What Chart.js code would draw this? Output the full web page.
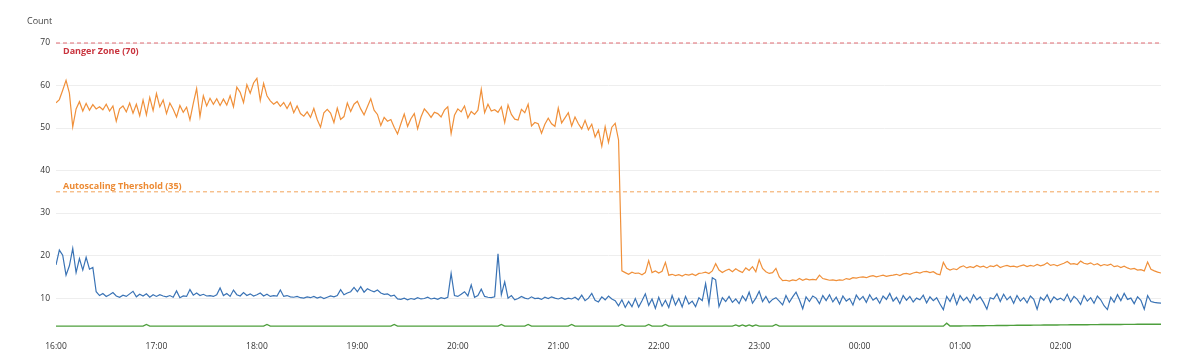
<!DOCTYPE html>
<html>
<head>
<meta charset="utf-8">
<script src="https://cdn.jsdelivr.net/npm/chart.js@4.4.1/dist/chart.umd.min.js"></script>
<style>
  html, body { margin: 0; padding: 0; background: #fff; }
  #wrap { position: relative; width: 1200px; height: 362px; }
</style>
</head>
<body>
<div id="wrap"><canvas id="countChart"></canvas></div>
<script>
// one sample every 2 minutes, starting at 16:00
const stepMinutes = 2;
const hourLabels = ['16:00', '17:00', '18:00', '19:00', '20:00', '21:00', '22:00', '23:00', '00:00', '01:00', '02:00'];
const yTickValues = [10, 20, 30, 40, 50, 60, 70];
const dangerLevel = 70;
const autoscaleLevel = 35;

const orangeCounts = [
  55.9, 56.7, 58.9, 61.2, 58.2, 50.3, 54.5, 56.2, 54.0, 55.8, 54.2, 55.5, 54.5, 55.0, 54.3, 55.6, 54.0, 55.2, 51.6, 54.5, 55.2, 53.8, 55.9, 53.5, 55.6, 52.9, 56.6, 53.1, 57.2, 54.1,
  58.1, 55.0, 56.6, 53.4, 55.9, 54.4, 52.6, 55.3, 53.7, 54.9, 51.9, 55.8, 59.3, 52.7, 57.6, 55.2, 57.0, 55.6, 56.9, 55.3, 56.8, 55.4, 57.6, 55.0, 59.6, 58.4, 56.0, 60.2, 58.2, 60.6,
  61.7, 56.5, 60.5, 57.6, 56.4, 55.6, 56.2, 55.1, 56.0, 54.6, 56.0, 53.6, 55.2, 53.4, 52.8, 53.8, 52.5, 54.6, 52.0, 50.2, 53.6, 54.4, 53.5, 51.3, 54.7, 52.0, 52.7, 55.9, 53.9, 55.6,
  56.3, 54.5, 53.1, 55.0, 56.9, 54.2, 53.2, 50.6, 52.5, 51.6, 52.0, 50.2, 48.6, 51.0, 53.3, 50.4, 52.2, 53.4, 49.8, 52.6, 54.5, 53.6, 52.5, 53.7, 53.4, 52.6, 54.2, 55.0, 48.7, 53.0,
  54.5, 53.8, 55.2, 52.4, 53.9, 53.2, 54.2, 59.1, 53.6, 55.6, 54.0, 54.3, 53.7, 55.0, 51.3, 55.4, 53.2, 52.1, 51.9, 54.4, 53.6, 55.6, 50.5, 51.3, 51.0, 48.8, 50.9, 52.3, 51.0, 50.4,
  54.7, 51.2, 52.4, 53.6, 50.5, 52.6, 51.0, 49.8, 51.8, 49.6, 50.9, 47.9, 49.5, 45.7, 50.3, 46.6, 50.2, 51.1, 47.2, 16.4, 16.0, 15.6, 16.1, 15.8, 15.9, 15.5, 16.0, 18.8, 16.0, 16.4,
  15.9, 16.3, 18.4, 15.4, 15.6, 15.3, 15.5, 15.2, 15.6, 15.4, 15.7, 15.3, 15.8, 15.9, 16.1, 15.8, 16.4, 18.1, 16.6, 16.0, 16.5, 16.8, 16.2, 16.9, 16.4, 16.0, 17.1, 16.5, 17.4, 16.2,
  19.0, 17.0, 16.2, 15.8, 16.0, 17.0, 15.0, 14.1, 14.2, 14.0, 14.3, 14.1, 14.6, 14.2, 14.5, 14.3, 14.4, 14.3, 15.4, 14.6, 14.4, 14.2, 14.3, 14.1, 14.3, 14.2, 14.6, 14.4, 14.8, 14.7,
  14.9, 15.0, 14.8, 15.1, 15.3, 15.0, 15.2, 15.4, 15.1, 15.3, 15.4, 15.6, 15.3, 15.7, 15.8, 15.6, 15.9, 16.1, 15.9, 16.2, 16.3, 16.0, 16.2, 15.7, 15.5, 18.4, 17.0, 16.6, 16.9, 16.7,
  17.3, 17.6, 17.1, 17.4, 17.2, 17.7, 17.3, 17.5, 17.1, 17.6, 17.4, 17.8, 17.2, 17.5, 17.7, 17.4, 17.5, 17.3, 17.6, 17.8, 17.4, 17.7, 17.5, 17.9, 17.6, 17.8, 18.3, 17.7, 17.9, 17.6,
  17.9, 18.2, 18.6, 18.0, 18.1, 17.9, 18.7, 18.2, 18.0, 18.3, 17.8, 18.1, 17.6, 17.9, 17.7, 18.0, 17.4, 17.6, 17.2, 17.5, 17.1, 16.8, 17.0, 16.6, 16.7, 16.4, 18.5, 16.8, 16.4, 16.1, 15.9
];

const blueCounts = [
  17.8, 21.3, 20.1, 15.4, 17.6, 21.7, 16.0, 19.3, 16.6, 19.6, 16.8, 17.2, 11.5, 10.6, 11.1, 10.4, 10.8, 11.3, 10.5, 10.2, 10.7, 10.4, 11.0, 11.6, 10.3, 10.9, 10.5, 11.0, 10.2, 10.8,
  10.4, 10.8, 10.5, 10.3, 10.6, 10.2, 11.7, 10.1, 10.5, 10.4, 12.0, 10.7, 11.2, 10.6, 10.9, 10.5, 10.6, 10.4, 10.8, 12.4, 10.6, 11.1, 10.4, 11.9, 10.8, 10.5, 11.3, 10.6, 11.0, 10.5,
  10.8, 11.2, 10.5, 10.9, 10.4, 10.6, 10.5, 11.9, 10.4, 10.6, 10.3, 10.2, 10.4, 10.1, 10.0, 10.3, 10.1, 10.4, 10.0, 10.3, 9.9, 10.2, 10.5, 10.3, 10.6, 12.0, 10.8, 11.2, 11.5, 12.5,
  11.5, 12.7, 11.4, 12.2, 11.8, 11.5, 11.9, 11.2, 10.9, 11.0, 10.5, 10.7, 9.8, 9.7, 10.0, 9.6, 9.9, 9.7, 10.1, 9.8, 9.9, 10.2, 9.8, 10.0, 9.7, 10.1, 9.9, 10.2, 15.8, 10.6,
  10.4, 10.9, 11.5, 10.5, 13.1, 10.2, 10.6, 12.1, 10.4, 10.2, 10.1, 10.3, 20.4, 10.8, 13.8, 10.0, 10.6, 9.6, 9.9, 10.4, 10.0, 9.8, 10.3, 9.9, 10.0, 9.7, 10.2, 9.9, 10.3, 10.0,
  9.8, 10.1, 9.7, 10.0, 9.8, 10.2, 9.6, 10.7, 9.4, 10.0, 11.1, 9.5, 9.1, 10.3, 9.6, 10.5, 9.8, 9.4, 8.2, 9.6, 7.8, 9.2, 8.0, 9.9, 7.9, 9.4, 11.0, 8.3, 9.8, 7.6,
  10.2, 8.1, 9.5, 7.8, 10.6, 8.4, 9.9, 7.9, 10.4, 8.6, 9.3, 8.0, 10.1, 9.4, 13.4, 8.6, 14.8, 14.3, 8.0, 10.1, 9.2, 10.4, 9.0, 9.8, 8.7, 10.5, 9.4, 11.4, 8.8, 10.0,
  11.6, 9.2, 10.4, 8.9, 9.7, 10.1, 9.3, 8.4, 10.6, 9.0, 10.3, 11.4, 9.6, 7.5, 10.3, 9.2, 10.5, 10.0, 8.7, 10.6, 9.4, 10.8, 9.1, 10.2, 8.6, 10.5, 9.3, 9.9, 8.4, 10.7,
  9.6, 10.4, 9.0, 10.8, 9.5, 10.1, 8.8, 10.5, 9.7, 11.1, 9.3, 10.2, 8.7, 10.6, 9.5, 10.4, 9.1, 10.0, 9.6, 10.7, 8.9, 10.3, 9.4, 10.1, 8.6, 7.3, 10.4, 9.2, 11.0, 8.5,
  10.6, 9.4, 10.2, 8.9, 10.8, 9.6, 10.3, 9.0, 7.4, 10.1, 9.8, 11.0, 9.2, 10.9, 9.6, 10.4, 8.8, 10.6, 9.3, 10.1, 8.9, 10.5, 9.7, 7.4, 10.2, 9.5, 10.8, 9.0, 10.3, 9.6,
  10.0, 9.4, 10.9, 9.1, 10.4, 9.7, 8.5, 10.6, 9.3, 10.1, 8.8, 10.5, 9.6, 8.2, 7.3, 10.2, 9.0, 10.8, 9.4, 11.1, 9.7, 10.0, 8.7, 10.3, 9.5, 7.4, 10.6, 9.2, 9.0, 8.9, 8.8
];

const greenCounts = [
  3.4, 3.4, 3.4, 3.4, 3.4, 3.4, 3.4, 3.4, 3.4, 3.4, 3.4, 3.4, 3.4, 3.4, 3.4, 3.4, 3.4, 3.4, 3.4, 3.4, 3.4, 3.4, 3.4, 3.4, 3.4, 3.4, 3.4, 3.8, 3.4, 3.4,
  3.4, 3.4, 3.4, 3.4, 3.4, 3.4, 3.4, 3.4, 3.4, 3.4, 3.4, 3.4, 3.4, 3.4, 3.4, 3.4, 3.4, 3.4, 3.4, 3.4, 3.4, 3.4, 3.4, 3.4, 3.4, 3.4, 3.4, 3.4, 3.4, 3.4,
  3.4, 3.4, 3.4, 3.8, 3.4, 3.4, 3.4, 3.4, 3.4, 3.4, 3.4, 3.4, 3.4, 3.4, 3.4, 3.4, 3.4, 3.4, 3.4, 3.4, 3.4, 3.4, 3.4, 3.4, 3.4, 3.4, 3.4, 3.4, 3.4, 3.4,
  3.4, 3.4, 3.4, 3.4, 3.4, 3.4, 3.4, 3.4, 3.4, 3.4, 3.4, 3.8, 3.4, 3.4, 3.4, 3.4, 3.4, 3.4, 3.4, 3.4, 3.4, 3.4, 3.4, 3.4, 3.4, 3.4, 3.4, 3.4, 3.4, 3.4,
  3.4, 3.4, 3.4, 3.4, 3.4, 3.4, 3.4, 3.4, 3.4, 3.4, 3.4, 3.4, 3.4, 3.8, 3.4, 3.4, 3.4, 3.4, 3.4, 3.4, 3.4, 3.8, 3.4, 3.4, 3.4, 3.4, 3.4, 3.4, 3.4, 3.4,
  3.4, 3.4, 3.4, 3.4, 3.8, 3.4, 3.4, 3.4, 3.4, 3.4, 3.4, 3.4, 3.4, 3.4, 3.4, 3.4, 3.4, 3.4, 3.4, 3.8, 3.4, 3.4, 3.4, 3.4, 3.4, 3.4, 3.4, 3.8, 3.4, 3.4,
  3.4, 3.4, 3.8, 3.4, 3.4, 3.4, 3.4, 3.4, 3.4, 3.4, 3.4, 3.4, 3.4, 3.4, 3.4, 3.4, 3.4, 3.4, 3.4, 3.4, 3.4, 3.4, 3.4, 3.7, 3.4, 3.7, 3.4, 3.7, 3.4, 3.7,
  3.4, 3.4, 3.4, 3.4, 3.4, 3.8, 3.4, 3.4, 3.4, 3.4, 3.4, 3.4, 3.4, 3.4, 3.4, 3.4, 3.4, 3.4, 3.4, 3.4, 3.4, 3.4, 3.4, 3.4, 3.4, 3.4, 3.4, 3.4, 3.4, 3.4,
  3.4, 3.4, 3.4, 3.4, 3.4, 3.4, 3.4, 3.4, 3.4, 3.4, 3.4, 3.4, 3.4, 3.4, 3.4, 3.4, 3.4, 3.4, 3.4, 3.4, 3.4, 3.4, 3.4, 3.4, 3.4, 3.4, 4.1, 3.45, 3.45, 3.45,
  3.45, 3.46, 3.47, 3.48, 3.49, 3.5, 3.5, 3.51, 3.52, 3.53, 3.54, 3.55, 3.55, 3.56, 3.57, 3.58, 3.59, 3.6, 3.6, 3.61, 3.62, 3.63, 3.64, 3.65, 3.65, 3.66, 3.67, 3.68, 3.68, 3.69,
  3.7, 3.7, 3.71, 3.72, 3.72, 3.73, 3.74, 3.74, 3.75, 3.76, 3.76, 3.77, 3.78, 3.78, 3.79, 3.8, 3.8, 3.81, 3.81, 3.82, 3.82, 3.83, 3.83, 3.84, 3.84, 3.85, 3.85, 3.85, 3.86, 3.86, 3.86
];

function toPoints(values) {
  return values.map((v, i) => ({ x: i * stepMinutes, y: v }));
}

const lastMinute = (orangeCounts.length - 1) * stepMinutes;

function levelLine(level) {
  return [{ x: 0, y: level }, { x: lastMinute, y: level }];
}

const thresholdLabels = {
  id: 'thresholdLabels',
  afterDatasetsDraw(chart) {
    const { ctx, chartArea, scales } = chart;
    const y = scales.y;
    ctx.save();
    ctx.font = 'bold 9px "Open Sans", sans-serif';
    ctx.textBaseline = 'middle';
    ctx.fillStyle = '#c9343e';
    ctx.fillText('Danger Zone (' + dangerLevel + ')', chartArea.left + 7, y.getPixelForValue(dangerLevel) + 8);
    ctx.fillStyle = '#ec8a33';
    ctx.fillText('Autoscaling Thershold (' + autoscaleLevel + ')', chartArea.left + 7, y.getPixelForValue(autoscaleLevel) - 5);
    ctx.font = '9px "Open Sans", sans-serif';
    ctx.fillStyle = '#444';
    ctx.fillText('Count', 27, 21);
    ctx.restore();
  }
};

const ctx = document.getElementById('countChart').getContext('2d');

new Chart(ctx, {
  type: 'line',
  data: {
    datasets: [
      {
        label: 'Danger Zone',
        data: levelLine(dangerLevel),
        borderColor: '#e06a72',
        borderWidth: 1,
        borderDash: [4, 3],
        pointRadius: 0
      },
      {
        label: 'Autoscaling Thershold',
        data: levelLine(autoscaleLevel),
        borderColor: '#f2a35a',
        borderWidth: 1,
        borderDash: [4, 3],
        pointRadius: 0
      },
      {
        label: 'Green',
        data: toPoints(greenCounts),
        borderColor: '#4e9f3d',
        borderWidth: 1.4,
        pointRadius: 0
      },
      {
        label: 'Blue',
        data: toPoints(blueCounts),
        borderColor: '#3a73b5',
        borderWidth: 1.2,
        pointRadius: 0
      },
      {
        label: 'Orange',
        data: toPoints(orangeCounts),
        borderColor: '#f0903a',
        borderWidth: 1.2,
        pointRadius: 0
      }
    ]
  },
  options: {
    responsive: true,
    maintainAspectRatio: false,
    animation: false,
    layout: {
      padding: { top: 34.5, right: 39, left: 0, bottom: 0 }
    },
    plugins: {
      legend: { display: false },
      tooltip: { enabled: false }
    },
    elements: {
      line: { tension: 0 }
    },
    scales: {
      x: {
        type: 'linear',
        min: 0,
        max: lastMinute,
        grid: { display: false },
        border: { display: false },
        ticks: {
          stepSize: 60,
          autoSkip: false,
          maxRotation: 0,
          padding: 3,
          color: '#333',
          font: { family: '"Open Sans", sans-serif', size: 8.5 },
          callback: (value) => hourLabels[value / 60]
        },
        afterFit: (scale) => { scale.height = 32; }
      },
      y: {
        min: 2.5,
        max: 72,
        grid: { color: '#eeeeee', drawTicks: false },
        border: { display: false },
        ticks: {
          padding: 6,
          color: '#333',
          font: { family: '"Open Sans", sans-serif', size: 8.5 }
        },
        afterBuildTicks: (scale) => {
          scale.ticks = yTickValues.map(v => ({ value: v }));
        },
        afterFit: (scale) => { scale.width = 56; }
      }
    }
  },
  plugins: [thresholdLabels]
});
</script>
</body>
</html>
